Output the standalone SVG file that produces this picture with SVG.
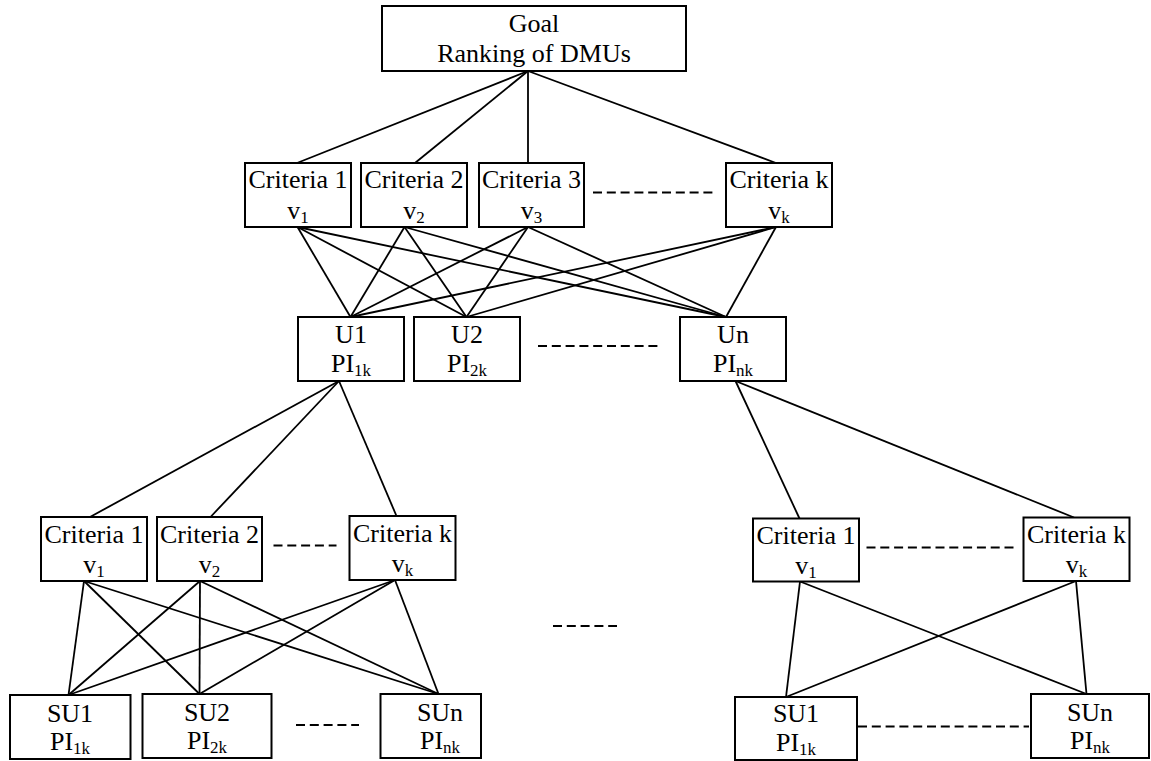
<svg xmlns="http://www.w3.org/2000/svg" width="1151" height="761" viewBox="0 0 1151 761">
<style>
rect.box{fill:#fff;stroke:#000;stroke-width:2}
text{font-family:"Liberation Serif","Times New Roman",serif;font-size:26px;fill:#000;text-anchor:middle}
tspan.sub{font-size:17px}
#connectors line{stroke:#000;stroke-width:1.8}
#connectors line.dash{stroke-width:2;stroke-dasharray:9 4.8}
</style>
<rect width="1151" height="761" fill="#fff"/>
<g id="connectors">
<line x1="528" y1="71" x2="297" y2="163"/>
<line x1="528" y1="71" x2="415" y2="163"/>
<line x1="528" y1="71" x2="528" y2="163"/>
<line x1="528" y1="71" x2="776" y2="163"/>
<line x1="297.5" y1="227" x2="350.5" y2="317"/>
<line x1="297.5" y1="227" x2="466.5" y2="317"/>
<line x1="297.5" y1="227" x2="726" y2="317"/>
<line x1="404.5" y1="227" x2="350.5" y2="317"/>
<line x1="404.5" y1="227" x2="466.5" y2="317"/>
<line x1="404.5" y1="227" x2="726" y2="317"/>
<line x1="528" y1="227" x2="350.5" y2="317"/>
<line x1="528" y1="227" x2="466.5" y2="317"/>
<line x1="528" y1="227" x2="726" y2="317"/>
<line x1="776" y1="227" x2="350.5" y2="317"/>
<line x1="776" y1="227" x2="466.5" y2="317"/>
<line x1="776" y1="227" x2="726" y2="317"/>
<line x1="339" y1="381" x2="90" y2="517"/>
<line x1="339" y1="381" x2="210.5" y2="517"/>
<line x1="339" y1="381" x2="396.5" y2="516"/>
<line x1="735.5" y1="381" x2="799.5" y2="518.5"/>
<line x1="735.5" y1="381" x2="1074" y2="517.5"/>
<line x1="84" y1="581" x2="68.5" y2="695"/>
<line x1="84" y1="581" x2="199.5" y2="694"/>
<line x1="84" y1="581" x2="438.5" y2="694"/>
<line x1="200" y1="581" x2="68.5" y2="695"/>
<line x1="200" y1="581" x2="199.5" y2="694"/>
<line x1="200" y1="581" x2="438.5" y2="694"/>
<line x1="395" y1="580" x2="68.5" y2="695"/>
<line x1="395" y1="580" x2="199.5" y2="694"/>
<line x1="395" y1="580" x2="438.5" y2="694"/>
<line x1="800" y1="581.5" x2="786" y2="697"/>
<line x1="800" y1="581.5" x2="1086.5" y2="694"/>
<line x1="1076" y1="581" x2="786" y2="697"/>
<line x1="1076" y1="581" x2="1086.5" y2="694"/>
<line class="dash" x1="593" y1="192.5" x2="713" y2="192.5"/>
<line class="dash" x1="538" y1="346" x2="658" y2="346"/>
<line class="dash" x1="273.5" y1="545.5" x2="336.5" y2="545.5"/>
<line class="dash" x1="866.5" y1="547.5" x2="1013.5" y2="547.5"/>
<line class="dash" x1="296" y1="725" x2="359" y2="725"/>
<line class="dash" x1="858" y1="726.5" x2="1029" y2="726.5"/>
<line class="dash" x1="553" y1="626" x2="617" y2="626"/>
</g>
<g id="goal"><rect class="box" x="382" y="6" width="304" height="65"/><text x="534" y="32">Goal</text><text x="534" y="62">Ranking of DMUs</text></g>
<g id="c1"><rect class="box" x="245" y="163" width="106" height="64"/><text x="298" y="187.5">Criteria 1</text><text x="298" y="219">v<tspan class="sub" dy="4">1</tspan></text></g>
<g id="c2"><rect class="box" x="361" y="163" width="106" height="64"/><text x="414" y="187.5">Criteria 2</text><text x="414" y="219">v<tspan class="sub" dy="4">2</tspan></text></g>
<g id="c3"><rect class="box" x="479" y="163" width="105" height="64"/><text x="531.5" y="187.5">Criteria 3</text><text x="531.5" y="219">v<tspan class="sub" dy="4">3</tspan></text></g>
<g id="ck"><rect class="box" x="726" y="163" width="106" height="64"/><text x="779" y="187.5">Criteria k</text><text x="779" y="219">v<tspan class="sub" dy="4">k</tspan></text></g>
<g id="u1"><rect class="box" x="298" y="317" width="106" height="64"/><text x="351" y="343">U1</text><text x="351" y="372">PI<tspan class="sub" dy="4">1k</tspan></text></g>
<g id="u2"><rect class="box" x="414" y="317" width="106" height="64"/><text x="467" y="343">U2</text><text x="467" y="372">PI<tspan class="sub" dy="4">2k</tspan></text></g>
<g id="un"><rect class="box" x="680" y="317" width="106" height="64"/><text x="733" y="343">Un</text><text x="733" y="372">PI<tspan class="sub" dy="4">nk</tspan></text></g>
<g id="cl1"><rect class="box" x="41" y="517" width="106" height="64"/><text x="94" y="543">Criteria 1</text><text x="94" y="573">v<tspan class="sub" dy="4">1</tspan></text></g>
<g id="cl2"><rect class="box" x="157" y="517" width="105" height="64"/><text x="209.5" y="543">Criteria 2</text><text x="209.5" y="573">v<tspan class="sub" dy="4">2</tspan></text></g>
<g id="clk"><rect class="box" x="349.5" y="516" width="106" height="64"/><text x="402.5" y="542">Criteria k</text><text x="402.5" y="572">v<tspan class="sub" dy="4">k</tspan></text></g>
<g id="su1"><rect class="box" x="10" y="695" width="120.5" height="64"/><text x="70" y="721.5">SU1</text><text x="70" y="750">PI<tspan class="sub" dy="4">1k</tspan></text></g>
<g id="su2"><rect class="box" x="142.5" y="694" width="129" height="64"/><text x="207" y="720.5">SU2</text><text x="207" y="749">PI<tspan class="sub" dy="4">2k</tspan></text></g>
<g id="sun"><rect class="box" x="380.5" y="694" width="100.5" height="64"/><text x="440" y="720.5">SUn</text><text x="440" y="749">PI<tspan class="sub" dy="4">nk</tspan></text></g>
<g id="cr1"><rect class="box" x="753" y="518.5" width="106" height="63"/><text x="806" y="544">Criteria 1</text><text x="806" y="574">v<tspan class="sub" dy="4">1</tspan></text></g>
<g id="crk"><rect class="box" x="1023.5" y="517.5" width="106" height="63.5"/><text x="1076.5" y="543">Criteria k</text><text x="1076.5" y="573">v<tspan class="sub" dy="4">k</tspan></text></g>
<g id="su1r"><rect class="box" x="735" y="697" width="122" height="63"/><text x="796" y="722">SU1</text><text x="796" y="751">PI<tspan class="sub" dy="4">1k</tspan></text></g>
<g id="sunr"><rect class="box" x="1031" y="694" width="118" height="64"/><text x="1090" y="720.5">SUn</text><text x="1090" y="749">PI<tspan class="sub" dy="4">nk</tspan></text></g>
</svg>
